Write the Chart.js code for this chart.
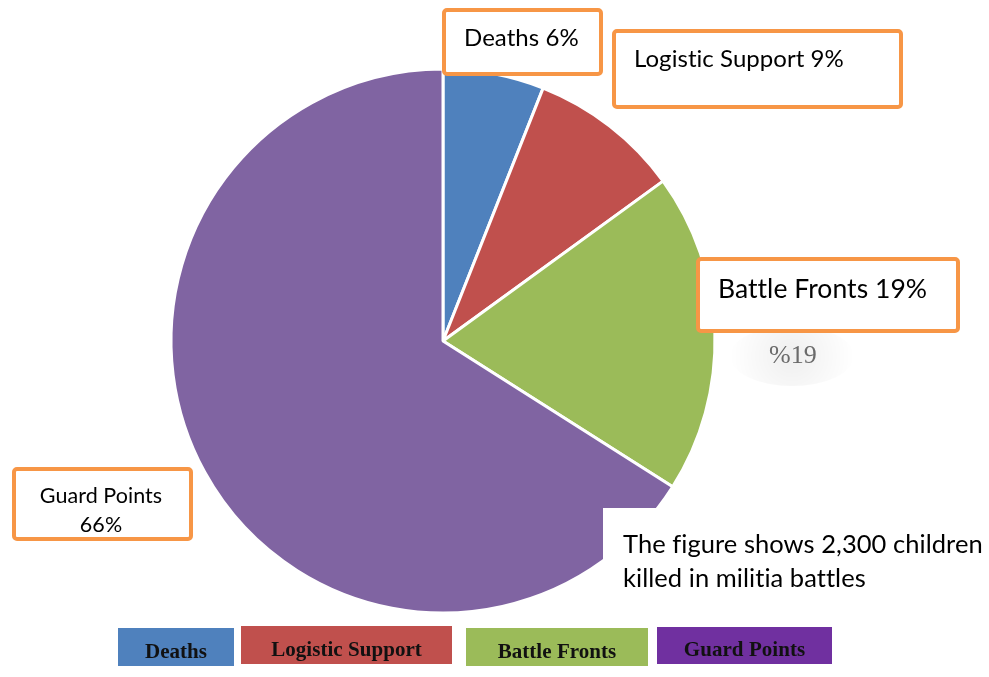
<!DOCTYPE html>
<html lang="en">
<head>
    <meta charset="UTF-8">
    <title>Children killed in militia battles</title>
    <script src="https://cdn.jsdelivr.net/npm/chart.js"></script>
    <style>
        html, body { margin: 0; padding: 0; background: #ffffff; }
        #wrap { width: 989px; height: 677px; position: relative; }
    </style>
</head>
<body>
    <div id="wrap">
        <canvas id="pieChart" width="989" height="677"></canvas>
    </div>

    <script>
        // Data
        const labels = ['Deaths', 'Logistic Support', 'Battle Fronts', 'Guard Points'];
        const values = [6, 9, 19, 66];
        const sliceColors = ['#4F81BD', '#C0504D', '#9BBB59', '#8064A2'];
        const legendColors = ['#4F81BD', '#C0504D', '#9BBB59', '#7030A0'];
        const noteLines = ['The figure shows 2,300 children', 'killed in militia battles'];

        const ORANGE = '#F79646';
        const SANS = 'Lato, "Open Sans", sans-serif';

        function pct(i) {
            return values[i] + '%';
        }

        function calloutBox(ctx, x, y, w, h) {
            ctx.save();
            ctx.beginPath();
            ctx.roundRect(x, y, w, h, 3);
            ctx.fillStyle = '#ffffff';
            ctx.fill();
            ctx.lineWidth = 4;
            ctx.strokeStyle = ORANGE;
            ctx.stroke();
            ctx.restore();
        }

        // callouts, note box and the colour-block legend are drawn on top of the pie
        const overlayPlugin = {
            id: 'overlay',
            afterDraw(chart) {
                const ctx = chart.ctx;
                ctx.save();
                // a hair of spacing keeps Lato from drawing fi / ti ligatures
                ctx.letterSpacing = '0.05px';

                // white text box that sits over the lower right of the pie
                ctx.fillStyle = '#ffffff';
                ctx.fillRect(603, 508, 386, 110);

                ctx.fillStyle = '#000000';
                ctx.textBaseline = 'alphabetic';
                ctx.textAlign = 'left';
                ctx.font = '25.5px ' + SANS;
                ctx.fillText(noteLines[0], 623, 553);
                ctx.fillText(noteLines[1], 623, 587);

                // faint glow behind the stray percentage text
                const g = ctx.createRadialGradient(792, 356, 4, 792, 356, 62);
                g.addColorStop(0, 'rgba(0,0,0,0.06)');
                g.addColorStop(1, 'rgba(0,0,0,0)');
                ctx.fillStyle = g;
                ctx.beginPath();
                ctx.ellipse(792, 356, 62, 30, 0, 0, Math.PI * 2);
                ctx.fill();
                ctx.fillStyle = '#6b6b6b';
                ctx.font = '26px "Liberation Serif", serif';
                ctx.fillText('%' + values[2], 769, 363);

                // callout boxes
                calloutBox(ctx, 444, 10, 157, 64);
                calloutBox(ctx, 614, 31, 287, 76);
                calloutBox(ctx, 698, 259, 260, 72);
                calloutBox(ctx, 14, 469, 177, 70);

                ctx.fillStyle = '#000000';
                ctx.font = '24px ' + SANS;
                ctx.fillText(labels[0] + ' ' + pct(0), 464, 46);
                ctx.fillText(labels[1] + ' ' + pct(1), 634, 67);
                ctx.font = '26.5px ' + SANS;
                ctx.fillText(labels[2] + ' ' + pct(2), 718, 298);
                ctx.font = '21.5px ' + SANS;
                ctx.textAlign = 'center';
                ctx.fillText(labels[3], 101, 503);
                ctx.fillText(pct(3), 101, 532);

                // legend blocks
                const blocks = [
                    { x: 118, y: 628, w: 116, h: 38 },
                    { x: 241, y: 626, w: 211, h: 38 },
                    { x: 466, y: 628, w: 182, h: 38 },
                    { x: 657, y: 627, w: 175, h: 37 }
                ];
                ctx.font = 'bold 21px "Liberation Serif", "Times New Roman", serif';
                ctx.textAlign = 'center';
                blocks.forEach((b, i) => {
                    ctx.fillStyle = legendColors[i];
                    ctx.fillRect(b.x, b.y, b.w, b.h);
                    ctx.fillStyle = '#111111';
                    ctx.fillText(labels[i], b.x + b.w / 2, b.y + b.h - 8);
                });

                ctx.restore();
            }
        };

        new Chart(document.getElementById('pieChart'), {
            type: 'pie',
            data: {
                labels: labels,
                datasets: [{
                    data: values,
                    backgroundColor: sliceColors,
                    borderColor: '#ffffff',
                    borderWidth: 3,
                    hoverOffset: 0
                }]
            },
            options: {
                responsive: false,
                animation: false,
                radius: 272,
                layout: {
                    padding: { left: 171, right: 274, top: 69, bottom: 64 }
                },
                plugins: {
                    legend: { display: false },
                    tooltip: { enabled: false }
                }
            },
            plugins: [overlayPlugin]
        });
    </script>
</body>
</html>
